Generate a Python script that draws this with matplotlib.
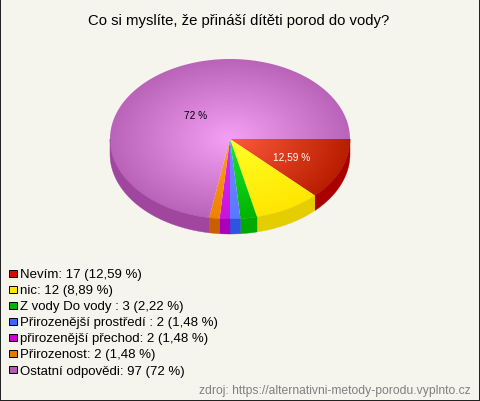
#! /usr/bin/env python3

import numpy as np
import matplotlib
matplotlib.use("Agg")
import matplotlib.pyplot as plt
from matplotlib.patches import Polygon, Rectangle

title = "Co si myslíte, že přináší dítěti porod do vody?"
source = "zdroj: https://alternativni-metody-porodu.vyplnto.cz"
categories = ["Nevím", "nic", "Z vody Do vody ", "Přirozenější prostředí ",
              "přirozenější přechod", "Přirozenost", "Ostatní odpovědi"]
counts = [17, 12, 3, 2, 2, 2, 97]
percents = ["12,59", "8,89", "2,22", "1,48", "1,48", "1,48", "72"]
# the slices in the picture are rounded to whole degrees
degrees = [45, 32, 8, 5, 5, 5, 260]

# inner colour, outer colour, side colour, legend colour
inner = ["#ff5a3c", "#ffff28", "#1ee632", "#6e8cff", "#e628f0", "#ffa01e", "#f5a0f5"]
outer = ["#b91e00", "#ffe600", "#00b400", "#5a78ff", "#c814dc", "#f08200", "#b964b9"]
side = ["#aa0000", "#e4cd00", "#00aa00", "#2d55e1", "#aa00be", "#c85f00", "#a0469f"]
legend_col = ["#c81400", "#ffe600", "#00b400", "#3c64ff", "#c800d2", "#e67800", "#b45ab4"]

cx, cy, rx, ry, depth = 230, 140, 120, 80, 15
background = "#f5f5ee"

fig = plt.figure(figsize=(4.8, 4.02), dpi=100, facecolor=background)
ax = fig.add_axes([0, 0, 1, 1], facecolor=background)
plt.rcParams["font.family"] = ["Liberation Sans", "DejaVu Sans"]

angles = np.radians(np.concatenate([[0], np.cumsum(degrees)]))

# distance from the centre, 0 in the middle and 1 on the rim
xx, yy = np.meshgrid(np.arange(cx - rx, cx + rx + 1), np.arange(cy - ry, cy + ry + 1))
dist = np.clip(np.hypot((xx - cx) / rx, (yy - cy) / ry), 0, 1)[..., None]

for i in range(len(counts)):
    t0, t1 = angles[i], angles[i + 1]

    # side of the pie, only the front half shows
    a, b = t0, min(t1, np.pi)
    if a < np.pi:
        t = np.linspace(a, b, 60)
        xs = cx + rx * np.cos(t)
        ys = cy + ry * np.sin(t)
        pts = np.vstack([np.c_[xs, ys], np.c_[xs, ys + depth][::-1]])
        ax.add_patch(Polygon(pts, closed=True, fc=side[i], ec=side[i], lw=0.3))

    # top of the slice with radial gradient
    t = np.linspace(t0, t1, 200)
    pts = np.vstack([[cx, cy], np.c_[cx + rx * np.cos(t), cy + ry * np.sin(t)]])
    clip = Polygon(pts, closed=True, fc="none", ec="none", transform=ax.transData)
    ax.add_patch(clip)
    c0 = np.array(matplotlib.colors.to_rgb(inner[i]))
    c1 = np.array(matplotlib.colors.to_rgb(outer[i]))
    img = ax.imshow(c0 + (c1 - c0) * dist, extent=(cx - rx, cx + rx, cy + ry, cy - ry),
                    aspect="auto", interpolation="bilinear")
    img.set_clip_path(clip)

ax.text(195.5, 115.7, percents[6] + " %", fontsize=7.3, color="black", ha="center", va="center")
ax.text(291.5, 157.7, percents[0] + " %", fontsize=7.3, color="white", ha="center", va="center")

ax.text(238.5, 20.8, title, fontsize=10.7, color="black", ha="center", va="center")

for i in range(len(categories)):
    y = 274 + i * 16.1
    ax.add_patch(Rectangle((9, y - 3.5), 7.5, 7, fc=legend_col[i], ec="black", lw=0.7))
    ax.text(20.5, y + 1, "%s: %d (%s %%)" % (categories[i], counts[i], percents[i]),
            fontsize=9.55, color="black", ha="left", va="center")

ax.text(470.5, 390.8, source, fontsize=8.75, color="#808080", ha="right", va="center")

ax.set_xlim(0, 480)
ax.set_ylim(402, 0)
ax.set_xticks([])
ax.set_yticks([])
for s in ax.spines.values():
    s.set_linewidth(1.44)
    s.set_color("#222222")

fig.savefig("out.png", dpi=100, facecolor=background)
